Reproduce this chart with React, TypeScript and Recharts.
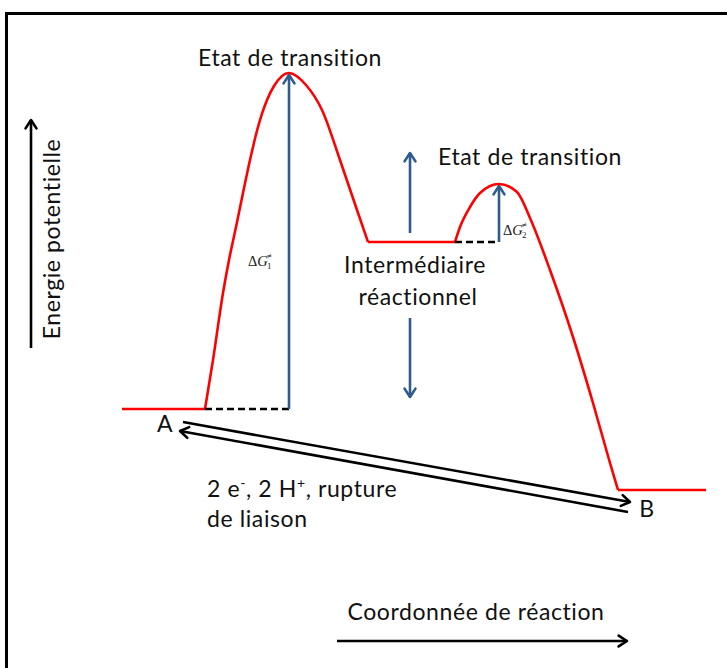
import React from 'react';
import { ComposedChart, Line, XAxis, YAxis, ReferenceLine, ReferenceDot } from 'recharts';

// Reaction coordinate (x) and potential energy (e)
const plateauA = [{ x: 122, e: 259 }, { x: 205, e: 259 }];
const hump1 = [
  { x: 205, e: 259 }, { x: 213, e: 308 }, { x: 223, e: 375 }, { x: 229, e: 408 },
  { x: 236, e: 441 }, { x: 243, e: 475 }, { x: 250, e: 508 }, { x: 258, e: 541 },
  { x: 267, e: 568 }, { x: 274, e: 582 }, { x: 289, e: 595 }, { x: 306, e: 583 },
  { x: 322, e: 558 }, { x: 340, e: 508 }, { x: 357, e: 458 }, { x: 368, e: 426 },
];
const plateauI = [{ x: 368, e: 426 }, { x: 455, e: 426 }];
const hump2 = [
  { x: 455, e: 426 }, { x: 460, e: 441 }, { x: 470, e: 461 }, { x: 480, e: 475 },
  { x: 499, e: 484 }, { x: 517, e: 476 }, { x: 530, e: 450 }, { x: 550, e: 398 },
  { x: 573, e: 331 }, { x: 593, e: 265 }, { x: 610, e: 205 }, { x: 618, e: 178 },
];
const plateauB = [{ x: 618, e: 178 }, { x: 706, e: 178 }];

const levels = { A: 259, TS1: 593, I: 426, TS2: 482, B: 178 };
const xs = { A_end: 205, TS1: 289, I_mid: 410, I_end: 455, TS2: 499 };

const titleTS = 'Etat de transition';
const labelI = ['Intermédiaire', 'réactionnel'];
const labelY = 'Energie potentielle';
const labelX = 'Coordonnée de réaction';

const RED = '#FF0000';
const BLUE = '#2F5B8E';
const FONT = 'Lato, "Open Sans", sans-serif';
const FS = 23;
const LS = 0.6;

const arrow = (color: string, w: number, head = 10) => (props: any) => {
  const { x1, y1, x2, y2 } = props;
  const ang = Math.atan2(y2 - y1, x2 - x1);
  const th = (33 * Math.PI) / 180;
  const p1 = [x2 - head * Math.cos(ang - th), y2 - head * Math.sin(ang - th)];
  const p2 = [x2 - head * Math.cos(ang + th), y2 - head * Math.sin(ang + th)];
  return (
    <g>
      <line x1={x1} y1={y1} x2={x2} y2={y2} stroke={color} strokeWidth={w} />
      <polyline
        points={`${p1[0]},${p1[1]} ${x2},${y2} ${p2[0]},${p2[1]}`}
        fill="none"
        stroke={color}
        strokeWidth={w}
        strokeLinecap="round"
        strokeLinejoin="round"
      />
    </g>
  );
};

const textStyle: any = { fontVariantLigatures: 'none', fontFeatureSettings: '"liga" 0', letterSpacing: LS };

const textShape = (txt: string, size: number, anchor: string = 'middle', rotate = 0) => (props: any) => {
  const { cx, cy } = props;
  return (
    <text
      x={cx}
      y={cy}
      textAnchor={anchor}
      fontFamily={FONT}
      fontSize={size}
      fill="#111"
      style={textStyle}
      transform={rotate ? `rotate(${rotate}, ${cx}, ${cy})` : undefined}
    >
      {txt}
    </text>
  );
};

const chargeShape = (props: any) => {
  const { cx, cy } = props;
  return (
    <text x={cx} y={cy} fontFamily={FONT} fontSize={FS} fill="#111" style={textStyle}>
      2 e<tspan dy={-9} fontSize={14}>-</tspan>
      <tspan dy={9}>, 2 H</tspan>
      <tspan dy={-9} fontSize={14}>+</tspan>
      <tspan dy={9}>, rupture</tspan>
    </text>
  );
};

const dgShape = (idx: string) => (props: any) => {
  const { cx, cy } = props;
  const W = 19;
  return (
    <g fontFamily='"Liberation Serif", "DejaVu Serif", serif' fill="#222">
      <text x={cx} y={cy} fontSize={14.5}>
        Δ<tspan fontStyle="italic">G</tspan>
      </text>
      <text x={cx + W} y={cy - 7} fontSize={9}>≠</text>
      <text x={cx + W} y={cy + 3} fontSize={9}>{idx}</text>
    </g>
  );
};

export default function App() {
  return (
    <div style={{ position: 'absolute', left: 0, top: 0, width: 727, height: 668 }}>
      <div
        style={{
          position: 'absolute',
          left: 5,
          top: 12,
          width: 722,
          height: 656,
          boxSizing: 'border-box',
          borderLeft: '3px solid #000',
          borderTop: '3px solid #000',
        }}
      />
      <div style={{ position: 'absolute', left: 0, top: 0 }}>
        <ComposedChart width={727} height={668} margin={{ top: 0, right: 0, bottom: 0, left: 0 }}>
          <XAxis type="number" dataKey="x" domain={[0, 727]} hide allowDataOverflow />
          <YAxis type="number" dataKey="e" domain={[0, 668]} hide allowDataOverflow />

          {[plateauA, hump1, plateauI, hump2, plateauB].map((d, i) => (
            <Line
              key={i}
              data={d}
              dataKey="e"
              type="monotone"
              stroke={RED}
              strokeWidth={2.6}
              dot={false}
              activeDot={false}
              isAnimationActive={false}
            />
          ))}

          {/* dashed baselines */}
          <ReferenceLine
            segment={[{ x: xs.A_end, y: levels.A }, { x: xs.TS1, y: levels.A }]}
            stroke="#000"
            strokeWidth={2.5}
            strokeDasharray="7 4"
            ifOverflow="visible"
          />
          <ReferenceLine
            segment={[{ x: xs.I_end, y: levels.I }, { x: xs.TS2, y: levels.I }]}
            stroke="#000"
            strokeWidth={2.5}
            strokeDasharray="7 4"
            ifOverflow="visible"
          />

          {/* activation energy arrows */}
          <ReferenceLine
            segment={[{ x: xs.TS1, y: levels.A }, { x: xs.TS1, y: levels.TS1 }]}
            shape={arrow(BLUE, 2.6)}
            ifOverflow="visible"
          />
          <ReferenceLine
            segment={[{ x: xs.TS2, y: levels.I }, { x: xs.TS2, y: levels.TS2 }]}
            shape={arrow(BLUE, 2.6)}
            ifOverflow="visible"
          />
          {/* intermediate arrows */}
          <ReferenceLine
            segment={[{ x: xs.I_mid, y: 435 }, { x: xs.I_mid, y: 515 }]}
            shape={arrow(BLUE, 2.6)}
            ifOverflow="visible"
          />
          <ReferenceLine
            segment={[{ x: xs.I_mid, y: 350 }, { x: xs.I_mid, y: 271 }]}
            shape={arrow(BLUE, 2.6)}
            ifOverflow="visible"
          />

          {/* A <-> B arrows */}
          <ReferenceLine
            segment={[{ x: 183, y: 246 }, { x: 630, y: 166 }]}
            shape={arrow('#000', 2.6)}
            ifOverflow="visible"
          />
          <ReferenceLine
            segment={[{ x: 628, y: 156 }, { x: 180, y: 237 }]}
            shape={arrow('#000', 2.6)}
            ifOverflow="visible"
          />

          {/* axis arrows */}
          <ReferenceLine
            segment={[{ x: 31, y: 320 }, { x: 31, y: 548 }]}
            shape={arrow('#000', 2.6)}
            ifOverflow="visible"
          />
          <ReferenceLine
            segment={[{ x: 337, y: 27 }, { x: 627, y: 27 }]}
            shape={arrow('#000', 2.6)}
            ifOverflow="visible"
          />

          {/* labels */}
          <ReferenceDot x={290} y={602} r={0} shape={textShape(titleTS, FS)} ifOverflow="visible" />
          <ReferenceDot x={530} y={503} r={0} shape={textShape(titleTS, FS)} ifOverflow="visible" />
          <ReferenceDot x={415} y={395} r={0} shape={textShape(labelI[0], FS)} ifOverflow="visible" />
          <ReferenceDot x={418} y={363} r={0} shape={textShape(labelI[1], FS)} ifOverflow="visible" />
          <ReferenceDot x={165} y={236} r={0} shape={textShape('A', FS)} ifOverflow="visible" />
          <ReferenceDot x={647} y={151} r={0} shape={textShape('B', FS)} ifOverflow="visible" />
          <ReferenceDot x={207} y={171} r={0} shape={chargeShape} ifOverflow="visible" />
          <ReferenceDot x={207} y={141} r={0} shape={textShape('de liaison', FS, 'start')} ifOverflow="visible" />
          <ReferenceDot x={476} y={48} r={0} shape={textShape(labelX, FS)} ifOverflow="visible" />
          <ReferenceDot x={60} y={429} r={0} shape={textShape(labelY, FS, 'middle', -90)} ifOverflow="visible" />
          <ReferenceDot x={248} y={402} r={0} shape={dgShape('1')} ifOverflow="visible" />
          <ReferenceDot x={503} y={433} r={0} shape={dgShape('2')} ifOverflow="visible" />
        </ComposedChart>
      </div>
    </div>
  );
}
